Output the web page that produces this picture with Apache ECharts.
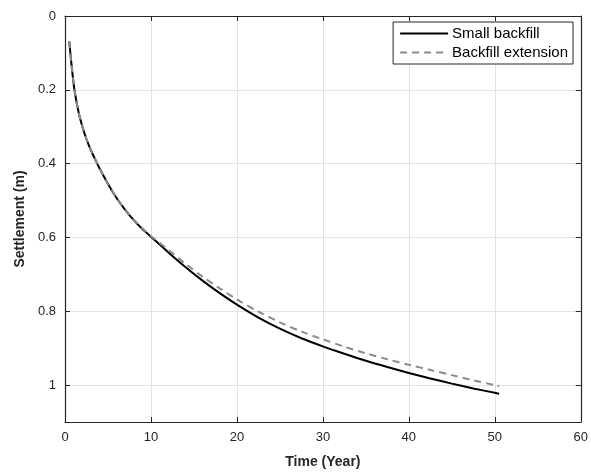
<!DOCTYPE html>
<html>
<head>
<meta charset="utf-8">
<style>
  html, body { margin: 0; padding: 0; background: #fff; }
  #chart { width: 591px; height: 474px; }
</style>
<script src="https://cdn.jsdelivr.net/npm/echarts@6/dist/echarts.min.js"></script>
</head>
<body>
<div id="chart"></div>
<script>
// settlement vs time
const timeSmall = [0.5, 0.75, 1.1, 1.6, 2, 2.5, 3, 3.5, 4, 5, 6, 7, 8, 9, 10, 12, 14, 16, 18, 20, 22.5, 25, 27.5, 30, 32.5, 35, 37.5, 40, 42.5, 45, 47.5, 50, 50.5];
const settleSmall = [0.069, 0.13, 0.2, 0.263, 0.298, 0.334, 0.363, 0.388, 0.412, 0.455, 0.493, 0.525, 0.553, 0.577, 0.598, 0.64, 0.68, 0.717, 0.751, 0.782, 0.817, 0.847, 0.873, 0.895, 0.915, 0.934, 0.951, 0.967, 0.982, 0.996, 1.009, 1.021, 1.0235];

const timeExt = [0.5, 0.75, 1.1, 1.6, 2, 2.5, 3, 3.5, 4, 5, 6, 7, 8, 9, 10, 12, 14, 16, 18, 20, 22.5, 25, 27.5, 30, 32.5, 35, 37.5, 40, 42.5, 45, 47.5, 50, 50.5];
const settleExt = [0.069, 0.13, 0.2, 0.263, 0.298, 0.334, 0.363, 0.388, 0.412, 0.455, 0.493, 0.525, 0.552, 0.575, 0.596, 0.633, 0.671, 0.706, 0.738, 0.768, 0.801, 0.83, 0.855, 0.876, 0.896, 0.914, 0.93, 0.945, 0.959, 0.973, 0.987, 1.0, 1.003];

const xTicks = { min: 0, max: 60, interval: 10 };
const yTicks = { min: 0, max: 1.1, interval: 0.2 };

const AXIS = '#262626';
const GRID = '#e3e3e3';
const FONT = 'Liberation Sans, Arial, sans-serif';

const pairs = (xs, ys) => xs.map((x, i) => [x, ys[i]]);

const chart = echarts.init(document.getElementById('chart'), null, { renderer: 'canvas' });

const tickStyle = { show: true, inside: true, length: 5, lineStyle: { color: AXIS, width: 1 } };
const frameLine = { show: true, onZero: false, lineStyle: { color: AXIS, width: 1.2 } };

chart.setOption({
    backgroundColor: '#fff',
    animation: false,
    grid: { left: 65, right: 10, top: 16, bottom: 52, containLabel: false },
    legend: {
        orient: 'vertical',
        right: 18,
        top: 22,
        backgroundColor: '#fff',
        borderColor: AXIS,
        borderWidth: 1,
        borderRadius: 0,
        padding: [4, 5, 4, 6],
        itemWidth: 48,
        itemHeight: 10,
        itemGap: 4,
        itemStyle: { opacity: 0 },
        textStyle: { fontFamily: FONT, fontSize: 15, color: '#000', padding: [0, 0, 0, -1] },
        data: ['Small backfill', 'Backfill extension']
    },
    xAxis: [
        {
            type: 'value',
            min: xTicks.min, max: xTicks.max, interval: xTicks.interval,
            name: 'Time (Year)',
            nameLocation: 'middle',
            nameGap: 33,
            nameTextStyle: { fontFamily: FONT, fontSize: 14, fontWeight: 'bold', color: AXIS },
            axisLine: frameLine,
            axisTick: tickStyle,
            axisLabel: { fontFamily: FONT, fontSize: 13, color: AXIS, margin: 9 },
            splitLine: { show: true, lineStyle: { color: GRID, width: 1 } }
        },
        {
            type: 'value', position: 'top',
            min: xTicks.min, max: xTicks.max, interval: xTicks.interval,
            axisLine: frameLine,
            axisTick: tickStyle,
            axisLabel: { show: false },
            splitLine: { show: false }
        }
    ],
    yAxis: [
        {
            type: 'value', inverse: true,
            min: yTicks.min, max: yTicks.max, interval: yTicks.interval,
            name: 'Settlement (m)',
            nameLocation: 'middle',
            nameGap: 34,
            nameTextStyle: { fontFamily: FONT, fontSize: 14, fontWeight: 'bold', color: AXIS },
            axisLine: frameLine,
            axisTick: tickStyle,
            axisLabel: { fontFamily: FONT, fontSize: 13, color: AXIS, margin: 9, showMaxLabel: false },
            splitLine: { show: true, lineStyle: { color: GRID, width: 1 } }
        },
        {
            type: 'value', inverse: true, position: 'right',
            min: yTicks.min, max: yTicks.max, interval: yTicks.interval,
            axisLine: frameLine,
            axisTick: tickStyle,
            axisLabel: { show: false },
            splitLine: { show: false }
        }
    ],
    series: [
        {
            name: 'Small backfill',
            type: 'line',
            data: pairs(timeSmall, settleSmall),
            smooth: 0.3,
            symbol: 'none',
            lineStyle: { color: '#000', width: 2 },
            itemStyle: { color: '#000' },
            z: 3
        },
        {
            name: 'Backfill extension',
            type: 'line',
            data: pairs(timeExt, settleExt),
            smooth: 0.3,
            symbol: 'none',
            lineStyle: { color: '#8a8a8a', width: 2, type: [7, 5] },
            itemStyle: { color: '#8a8a8a' },
            z: 4
        }
    ]
});
</script>
</body>
</html>
